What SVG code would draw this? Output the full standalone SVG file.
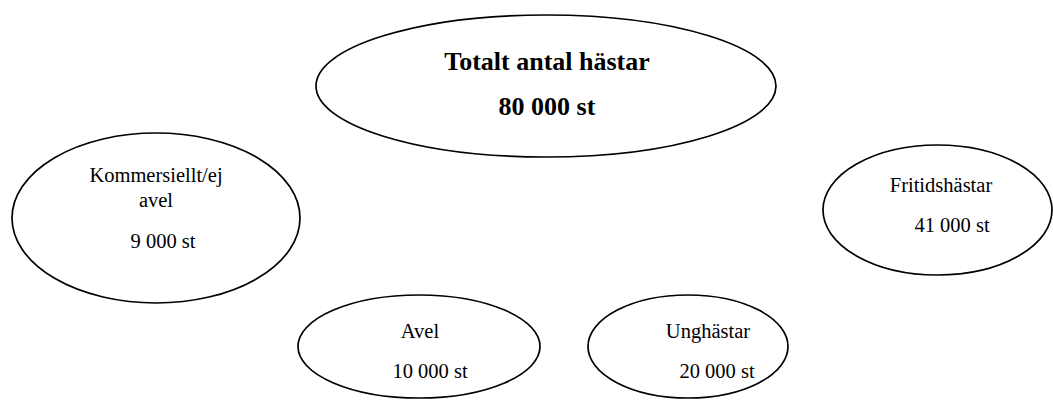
<svg xmlns="http://www.w3.org/2000/svg" width="1053" height="400" viewBox="0 0 1053 400">
<style>
.n{fill:#fff;stroke:#000;stroke-width:1.7}
text{font-family:"Liberation Serif","Times New Roman",serif;fill:#000;text-anchor:middle}
.b{font-weight:bold;font-size:26px}
.r{font-size:20.5px}
</style>
<rect width="1053" height="400" fill="#fff"/>
<g id="connectors"></g>
<g id="total">
<ellipse class="n" cx="546" cy="86" rx="230" ry="71"/>
<text class="b" x="547" y="70">Totalt antal hästar</text>
<text class="b" x="547" y="115">80 000 st</text>
</g>
<g id="kommersiellt">
<ellipse class="n" cx="156" cy="218" rx="144" ry="85"/>
<text class="r" x="156" y="182">Kommersiellt/ej</text>
<text class="r" x="156" y="207">avel</text>
<text class="r" x="163" y="248">9 000 st</text>
</g>
<g id="fritid">
<ellipse class="n" cx="937.5" cy="210" rx="114.5" ry="65"/>
<text class="r" x="941" y="192">Fritidshästar</text>
<text class="r" x="952" y="232">41 000 st</text>
</g>
<g id="avel">
<ellipse class="n" cx="419" cy="346.5" rx="121" ry="51.5"/>
<text class="r" x="420" y="338">Avel</text>
<text class="r" x="430" y="378">10 000 st</text>
</g>
<g id="unghastar">
<ellipse class="n" cx="688" cy="346.5" rx="100" ry="51.5"/>
<text class="r" x="708" y="338">Unghästar</text>
<text class="r" x="717" y="378">20 000 st</text>
</g>
</svg>
